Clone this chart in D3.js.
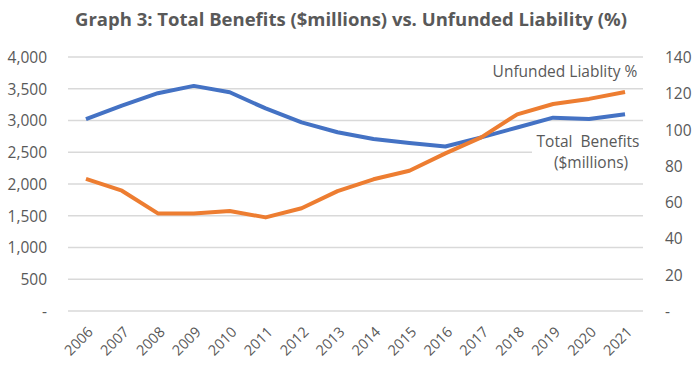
<!DOCTYPE html>
<html>
<head>
<meta charset="utf-8">
<script src="https://cdn.jsdelivr.net/npm/d3@7"></script>
<style>
  body { margin: 0; background: #fff; }
  text { font-family: "Open Sans", sans-serif; fill: #595959; }
</style>
</head>
<body>
<script>
// the data
const years = ["2006","2007","2008","2009","2010","2011","2012","2013","2014","2015","2016","2017","2018","2019","2020","2021"];
const benefits = [3020, 3235, 3430, 3545, 3445, 3190, 2970, 2815, 2710, 2645, 2590, 2735, 2890, 3045, 3025, 3100];
const unfunded = [72.8, 66.3, 53.8, 53.8, 55.1, 51.6, 56.6, 66.1, 72.6, 77.3, 86.9, 95.7, 108.4, 114.1, 116.9, 120.7];
const leftTicks = [0, 500, 1000, 1500, 2000, 2500, 3000, 3500, 4000];
const rightTicks = [0, 20, 40, 60, 80, 100, 120, 140];

const W = 700, H = 379;
const margin = {top: 57, right: 57, bottom: 68, left: 68};
const width = W - margin.left - margin.right;
const height = H - margin.top - margin.bottom;

const svg = d3.select("body").append("svg")
    .attr("width", W)
    .attr("height", H);

// titre
svg.append("text")
    .attr("x", 351)
    .attr("y", 26)
    .attr("text-anchor", "middle")
    .style("font-size", "18.5px")
    .style("font-weight", "bold")
    .text("Graph 3: Total Benefits ($millions) vs. Unfunded Liability (%)");

const g = svg.append("g")
    .attr("transform", `translate(${margin.left}, ${margin.top})`);

// scales
const x = d3.scaleBand().domain(years).range([0, width]);
const yL = d3.scaleLinear().domain([0, 4000]).range([height, 0]);
const yR = d3.scaleLinear().domain([0, 140]).range([height, 0]);

const fmt = v => v === 0 ? "-" : d3.format(",")(v);

// grid
g.append("g")
    .selectAll("line")
    .data(leftTicks)
    .join("line")
    .attr("x1", 0)
    .attr("x2", width)
    .attr("y1", d => yL(d))
    .attr("y2", d => yL(d))
    .attr("stroke", "#d9d9d9")
    .attr("stroke-width", 1.3);

// axe gauche
const axL = g.append("g")
    .call(d3.axisLeft(yL).tickValues(leftTicks).tickFormat(fmt).tickSize(0).tickPadding(21));
axL.select(".domain").remove();
axL.selectAll("text").style("font-size", "15.5px").style("fill", "#595959").attr("dy", "0.35em");

// axe droit
const axR = g.append("g")
    .attr("transform", `translate(${width}, 0)`)
    .call(d3.axisRight(yR).tickValues(rightTicks).tickFormat(fmt).tickSize(0).tickPadding(22));
axR.select(".domain").remove();
axR.selectAll("text").style("font-size", "15.5px").style("fill", "#595959").attr("dy", "0.35em");

// axe x
const axX = g.append("g")
    .attr("transform", `translate(0, ${height})`)
    .call(d3.axisBottom(x).tickSize(0).tickPadding(0));
axX.select(".domain").remove();
axX.selectAll("text")
    .style("font-size", "14.5px")
    .style("fill", "#595959")
    .attr("text-anchor", "end")
    .attr("dy", null)
    .attr("transform", "translate(8, 22) rotate(-45)");

// lignes
const lineB = d3.line()
    .x((d, i) => x(years[i]) + x.bandwidth() / 2)
    .y(d => yL(d));

const lineU = d3.line()
    .x((d, i) => x(years[i]) + x.bandwidth() / 2)
    .y(d => yR(d));

g.append("path")
    .attr("d", lineB(benefits))
    .attr("fill", "none")
    .attr("stroke", "#4472c4")
    .attr("stroke-width", 4)
    .attr("stroke-linejoin", "round");

g.append("path")
    .attr("d", lineU(unfunded))
    .attr("fill", "none")
    .attr("stroke", "#ed7d31")
    .attr("stroke-width", 4)
    .attr("stroke-linejoin", "round");

// etiquettes
svg.append("text")
    .attr("x", 565)
    .attr("y", 77)
    .attr("text-anchor", "middle")
    .style("font-size", "15.5px")
    .text("Unfunded Liablity %");

svg.append("rect")
    .attr("x", 532)
    .attr("y", 133)
    .attr("width", 112)
    .attr("height", 40)
    .attr("fill", "#fff");

const lbl = svg.append("text")
    .attr("text-anchor", "middle")
    .style("font-size", "15.5px");
lbl.append("tspan").attr("x", 588).attr("y", 147).attr("xml:space", "preserve").text("Total  Benefits");
lbl.append("tspan").attr("x", 591).attr("y", 168).text("($millions)");
</script>
</body>
</html>
